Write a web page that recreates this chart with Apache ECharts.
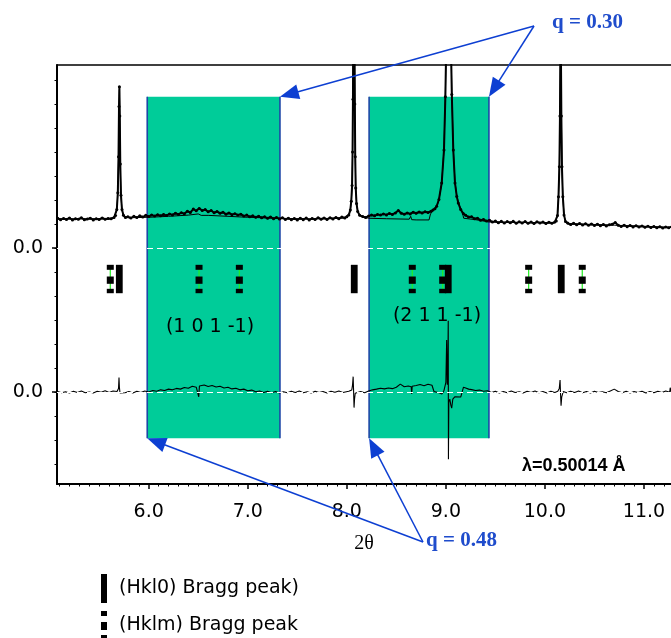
<!DOCTYPE html>
<html><head><meta charset="utf-8">
<script src="https://cdn.jsdelivr.net/npm/echarts@6/dist/echarts.min.js"></script>
<style>html,body{margin:0;padding:0;background:#fff}#chart{width:671px;height:638px}</style>
</head><body><div id="chart"></div>
<script>
// ---- observed pattern (2theta, intensity in axis units) ----
const twoTheta = [
5.08,5.11,5.14,5.17,5.20,5.23,5.26,5.29,5.32,5.35,5.38,5.41,5.44,5.47,5.50,5.53,5.56,5.59,5.62,
5.65,5.665,5.678,5.688,5.695,5.700,5.704,5.708,5.713,5.72,5.73,5.745,5.765,
5.79,5.82,5.85,5.88,5.91,5.94,5.97,6.00,6.03,6.06,
6.09,6.12,6.15,6.18,6.21,6.24,6.27,6.30,6.33,6.36,
6.39,6.42,6.45,6.48,6.51,6.54,6.57,6.60,6.63,6.66,
6.69,6.72,6.75,6.78,6.81,6.84,6.87,6.90,6.93,6.96,
6.99,7.02,7.05,7.08,7.11,7.14,7.17,7.20,7.23,7.26,
7.29,7.32,7.35,7.38,7.41,7.44,7.47,7.50,7.53,7.56,
7.59,7.62,7.65,7.68,7.71,7.74,7.77,7.80,7.83,7.86,
7.89,7.92,7.95,7.98,
8.00,8.02,8.035,8.045,8.053,8.058,8.062,8.065,8.071,8.077,8.081,8.085,8.09,8.098,8.11,8.13,
8.16,8.19,8.22,8.25,8.28,8.31,8.34,8.37,8.40,8.43,8.46,8.49,8.52,8.55,8.58,8.61,8.64,8.67,8.70,8.73,8.76,8.79,8.82,8.85,
8.87,8.89,8.907,8.93,8.958,8.981,8.995,9.005,9.015,9.028,9.04,9.05,9.06,9.075,9.092,9.11,9.125,9.15,9.176,
9.20,9.23,9.26,9.29,9.32,9.35,9.38,9.41,9.44,9.47,9.50,9.53,9.56,9.59,9.62,9.65,9.68,9.71,9.74,9.77,9.80,9.83,9.86,9.89,9.92,9.95,9.98,10.01,10.04,10.07,10.10,
10.115,10.127,10.137,10.146,10.152,10.156,10.159,10.162,10.166,10.172,10.181,10.193,10.208,
10.23,10.26,10.29,10.32,10.35,10.38,10.41,10.44,10.47,10.50,10.53,10.56,10.59,10.62,10.65,10.68,10.71,10.74,10.77,10.80,10.83,10.86,10.89,10.92,10.95,10.98,11.01,11.04,11.07,11.10,11.13,11.16,11.19,11.22,11.25,11.28
];
const yObs = [
7.24,7.18,7.23,7.19,7.25,7.17,7.22,7.20,7.26,7.18,7.21,7.24,7.17,7.22,7.19,7.25,7.20,7.23,7.22,
7.27,7.35,7.6,8.3,9.8,11.9,12.72,11.5,9.5,8.2,7.6,7.36,7.27,
7.30,7.25,7.32,7.27,7.34,7.29,7.36,7.31,7.38,7.33,
7.39,7.34,7.40,7.35,7.42,7.38,7.45,7.40,7.47,7.43,
7.53,7.48,7.62,7.55,7.65,7.56,7.60,7.51,7.56,7.47,
7.52,7.45,7.49,7.41,7.46,7.39,7.43,7.37,7.41,7.33,
7.37,7.30,7.34,7.28,7.32,7.26,7.30,7.24,7.29,7.22,
7.27,7.21,7.26,7.19,7.24,7.18,7.23,7.17,7.24,7.18,
7.25,7.17,7.23,7.19,7.26,7.20,7.25,7.19,7.26,7.21,
7.27,7.22,7.29,7.25,
7.30,7.38,7.58,7.95,8.6,10.0,12.2,15,24,15,12,9.8,8.5,7.85,7.52,7.36,
7.31,7.27,7.33,7.37,7.34,7.40,7.37,7.42,7.38,7.44,7.40,7.46,7.56,7.45,7.41,7.46,7.42,7.49,7.45,7.50,7.46,7.51,7.48,7.53,
7.58,7.64,7.74,8.02,8.71,10.08,12.3,14.8,20,32,20,14.8,12.4,10.08,8.71,8.15,7.88,7.60,7.44,
7.36,7.29,7.30,7.22,7.24,7.16,7.19,7.12,7.16,7.08,7.12,7.05,7.11,7.04,7.10,7.05,7.11,7.03,7.09,7.04,7.10,7.03,7.08,7.02,7.09,7.04,7.08,7.02,7.07,7.03,7.08,
7.12,7.35,8.14,9.39,11.5,14,22,14,11.5,9.39,8.14,7.38,7.10,
7.04,6.98,7.03,6.97,7.02,6.96,7.01,6.95,7.00,6.94,6.99,6.93,6.98,6.92,6.97,6.99,7.06,6.95,6.90,6.95,6.89,6.94,6.88,6.93,6.87,6.92,6.86,6.91,6.85,6.90,6.84,6.89,6.83,6.88,6.84,6.90
];
// ---- calculated pattern ----
const calcTheta = [5.08,5.60,5.65,5.665,5.678,5.688,5.695,5.700,5.704,5.708,5.713,5.72,5.73,5.745,5.765,5.80,6.00,6.20,6.40,6.50,6.515,6.53,6.60,6.80,7.00,7.30,7.60,7.98,8.00,8.02,8.035,8.045,8.053,8.058,8.062,8.065,8.071,8.077,8.081,8.085,8.09,8.098,8.11,8.13,8.16,8.22,8.40,8.63,8.645,8.655,8.70,8.83,8.845,8.87,8.89,8.907,8.93,8.958,8.981,8.995,9.005,9.015,9.028,9.04,9.05,9.06,9.075,9.092,9.11,9.125,9.15,9.17,9.18,9.30,9.44,10.10,10.115,10.127,10.137,10.146,10.152,10.156,10.159,10.162,10.166,10.172,10.181,10.193,10.208,10.23,10.70,11.28];
const yCalc = [7.21,7.22,7.26,7.34,7.58,8.25,9.7,11.8,12.6,11.4,9.4,8.15,7.58,7.34,7.26,7.26,7.28,7.32,7.37,7.42,7.44,7.36,7.36,7.32,7.28,7.24,7.21,7.25,7.29,7.37,7.57,7.93,8.55,9.9,12.0,15,24,15,12.1,9.9,8.55,7.88,7.52,7.36,7.30,7.24,7.22,7.20,7.32,7.18,7.17,7.17,7.42,7.55,7.62,7.72,8.0,8.7,10.1,12.4,15,20,32,20,15,12.5,10.1,8.75,8.2,7.92,7.62,7.42,7.24,7.18,7.08,7.05,7.11,7.33,8.12,9.4,11.6,14,22,14,11.6,9.4,8.12,7.36,7.09,7.00,6.95,6.86];
// ---- difference curve ----
const diffTheta = [
5.08,5.12,5.16,5.20,5.24,5.28,5.32,5.36,5.40,5.44,5.48,5.52,5.56,5.60,5.64,
5.68,5.695,5.700,5.704,5.71,5.73,
5.76,5.80,5.84,5.88,5.92,5.96,6.00,6.04,6.08,6.12,6.16,6.20,6.24,6.28,6.32,6.36,6.40,6.44,6.48,
6.50,6.505,6.512,
6.52,6.56,6.60,6.64,6.68,6.72,6.76,6.80,6.84,6.88,6.92,6.96,7.00,7.04,7.08,7.12,7.16,7.20,7.24,7.28,7.32,7.36,7.40,7.44,7.48,7.52,7.56,7.60,7.64,7.68,7.72,7.76,7.80,7.84,7.88,7.92,7.96,
8.02,8.05,8.058,8.064,8.068,8.073,8.078,8.085,8.10,
8.14,8.18,8.22,8.26,8.30,8.34,8.38,8.42,8.46,8.50,8.54,8.58,8.62,8.65,8.655,8.66,8.70,8.74,8.78,8.82,8.86,
8.88,8.90,8.93,8.96,8.98,9.00,9.008,9.014,9.020,9.024,9.026,9.030,9.040,9.050,9.059,9.07,9.09,9.11,9.15,9.17,9.178,9.20,9.23,
9.26,9.30,9.34,9.38,9.42,9.46,9.50,9.54,9.58,9.62,9.66,9.70,9.74,9.78,9.82,9.86,9.90,9.94,9.98,10.02,10.06,10.10,
10.13,10.145,10.153,10.158,10.163,10.17,10.185,
10.22,10.26,10.30,10.34,10.38,10.42,10.46,10.50,10.54,10.58,10.62,10.66,10.70,10.74,10.78,10.82,10.86,10.90,10.94,10.98,11.02,11.06,11.10,11.14,11.18,11.22,11.26,
11.265,11.275
];
const yDiff = [
0.02,-0.03,0.01,-0.04,0.03,-0.02,0.04,-0.03,0.00,-0.04,0.03,-0.01,0.05,-0.02,0.04,
0.02,0.15,0.6,0.2,-0.04,0.03,
-0.03,0.02,-0.04,0.03,-0.02,0.04,0.00,0.06,0.03,0.09,0.06,0.12,0.09,0.15,0.12,0.19,0.16,0.24,0.20,
0.27,-0.2,0.25,
0.22,0.29,0.23,0.27,0.21,0.24,0.17,0.20,0.13,0.16,0.09,0.12,0.05,0.08,0.01,0.04,-0.02,0.03,-0.03,0.02,-0.04,0.01,-0.03,0.03,-0.02,0.04,-0.03,0.01,-0.04,0.03,-0.02,0.02,-0.04,0.03,-0.01,0.04,-0.02,
0.03,0.08,0.30,0.64,0.1,-0.65,-0.3,-0.05,0.02,
0.02,-0.03,0.04,0.09,0.12,0.16,0.13,0.17,0.14,0.20,0.33,0.22,0.25,0.22,-0.08,0.24,0.27,0.31,0.26,0.32,0.28,
0.02,-0.06,-0.03,-0.08,0.05,0.4,2.17,0.3,1.0,2.97,-2.8,-0.4,-0.3,-0.55,-0.67,-0.3,-0.2,-0.18,-0.21,-0.16,0.2,0.17,0.12,
0.10,0.06,0.08,0.03,0.05,-0.02,0.03,-0.04,0.02,-0.03,0.04,-0.02,0.01,-0.04,0.03,-0.02,0.04,-0.03,0.02,-0.04,0.03,-0.02,
0.03,0.15,0.50,-0.1,-0.57,-0.2,0.02,
-0.03,0.03,-0.02,0.04,-0.03,0.02,-0.04,0.03,-0.02,0.01,-0.03,0.04,0.12,0.02,-0.03,0.03,-0.04,0.02,-0.02,0.03,-0.04,0.02,-0.03,0.03,-0.02,0.04,-0.01,
0.18,0.0
];
// ---- Bragg reflections ----
const hkl0Peaks = [5.703, 8.075, 9.024, 10.165];
const hklmPeaks = [5.612, 6.508, 6.915, 8.661, 8.968, 9.836, 10.377];
// ---- highlighted q regions (2theta ranges) ----
const qRegions = [[5.985, 7.325], [8.225, 9.435]];
// ---- axis ticks / labels ----
const xTickLabels = [6, 7, 8, 9, 10, 11];
const yZeroLevels = [0, 6];
const yMinorTicks = [-3,-2,-1,0,1,2,3,4,5,6,7,8,9,10,11,12,13];

const X_MIN = 5.074, X_MAX = 11.273, Y_MIN = -3.833, Y_MAX = 13.625;
const RECT_TOP = 12.30, RECT_BOTTOM = -1.93, BRAGG_LEVEL = 4.708;
const xMinorTicks = [];
for (let i = 51; i <= 112; i++) if (i % 10) xMinorTicks.push(i / 10);

const SANS = "'DejaVu Sans', sans-serif";
const blue = '#0d3fd2';
const pair = (xs, ys) => xs.map((x, i) => [x, ys[i]]);

const chart = echarts.init(document.getElementById('chart'), null, {renderer: 'canvas'});
const option = {
  animation: false,
  backgroundColor: '#fff',
  grid: {left: 57, right: 0, top: 65, bottom: 154, containLabel: false},
  xAxis: [
    {type: 'value', min: X_MIN, max: X_MAX, position: 'bottom',
     axisLine: {show: true, onZero: false, lineStyle: {color: '#000', width: 2}},
     axisTick: {show: true, customValues: xTickLabels, length: 5, lineStyle: {color: '#000', width: 1.5}},
     axisLabel: {customValues: xTickLabels, formatter: v => Number(v).toFixed(1), fontSize: 19, fontFamily: SANS, color: '#000', margin: 19},
     splitLine: {show: false},
     name: '2θ', nameLocation: 'middle', nameGap: 50,
     nameTextStyle: {fontFamily: "'Liberation Serif', serif", fontSize: 20, color: '#000'}},
    {type: 'value', min: X_MIN, max: X_MAX, position: 'bottom',
     axisLine: {show: false, onZero: false},
     axisTick: {show: true, customValues: xMinorTicks, length: 2.5, lineStyle: {color: '#000', width: 1}},
     axisLabel: {show: false}, splitLine: {show: false}},
    {type: 'value', min: X_MIN, max: X_MAX, position: 'top',
     axisLine: {show: true, onZero: false, lineStyle: {color: '#000', width: 1.5}},
     axisTick: {show: false}, axisLabel: {show: false}, splitLine: {show: false}}
  ],
  yAxis: [
    {type: 'value', min: Y_MIN, max: Y_MAX, position: 'left',
     axisLine: {show: true, onZero: false, lineStyle: {color: '#000', width: 2}},
     axisTick: {show: true, customValues: yMinorTicks, length: 2.5, lineStyle: {color: '#000', width: 1}},
     axisLabel: {customValues: yZeroLevels, formatter: () => '0.0', fontSize: 19, fontFamily: SANS, color: '#000', margin: 14},
     splitLine: {show: false}},
    {type: 'value', min: Y_MIN, max: Y_MAX, position: 'left',
     axisLine: {show: false, onZero: false},
     axisTick: {show: true, customValues: yZeroLevels, length: 5, lineStyle: {color: '#000', width: 1.5}},
     axisLabel: {show: false}, splitLine: {show: false}}
  ],
  legend: {
    orient: 'vertical', left: 101, top: 574, height: 120, padding: 0, itemWidth: 6, itemHeight: 29, itemGap: 8,
    selectedMode: false,
    textStyle: {fontFamily: SANS, fontSize: 19, color: '#000', padding: [0, 0, 0, 7]},
    data: [
      {name: '(Hkl0) Bragg peak)', icon: 'rect'},
      {name: '(Hklm) Bragg peak', icon: 'path://M0,0L6,0L6,5L0,5Z M0,11L6,11L6,19L0,19Z M0,24L6,24L6,29L0,29Z'}
    ]
  },
  series: [
    {type: 'custom', name: 'q regions', z: 1, silent: true,
     data: qRegions,
     encode: {x: [0, 1]},
     renderItem: (params, api) => {
       const p0 = api.coord([api.value(0), RECT_TOP]);
       const p1 = api.coord([api.value(1), RECT_BOTTOM]);
       const edge = {stroke: '#1d46a6', lineWidth: 1.6};
       return {type: 'group', children: [
         {type: 'rect', shape: {x: p0[0], y: p0[1], width: p1[0] - p0[0], height: p1[1] - p0[1]}, style: {fill: '#00CC99'}},
         {type: 'line', shape: {x1: p0[0], y1: p0[1], x2: p0[0], y2: p1[1]}, style: edge},
         {type: 'line', shape: {x1: p1[0], y1: p0[1], x2: p1[0], y2: p1[1]}, style: edge}
       ]};
     },
     markLine: {silent: true, symbol: 'none', label: {show: false},
       lineStyle: {color: '#fff', type: [6, 4], width: 1},
       data: yZeroLevels.map(v => ({yAxis: v}))}
    },
    {type: 'line', name: 'calc', z: 3, data: pair(calcTheta, yCalc), showSymbol: false,
     lineStyle: {color: '#000', width: 1}, itemStyle: {color: '#000'}, clip: true},
    {type: 'line', name: 'obs', z: 4, data: pair(twoTheta, yObs), showSymbol: true, showAllSymbol: true,
     symbol: 'circle', symbolSize: 3,
     lineStyle: {color: '#000', width: 2}, itemStyle: {color: '#000'}, clip: true},
    {type: 'line', name: 'diff', z: 4, data: pair(diffTheta, yDiff), showSymbol: false,
     lineStyle: {color: '#000', width: 1.1}, itemStyle: {color: '#000'}, clip: true},
    {type: 'custom', name: '(Hkl0) Bragg peak)', z: 5, itemStyle: {color: '#000'},
     data: hkl0Peaks.map(p => [p, BRAGG_LEVEL]),
     renderItem: (params, api) => {
       const c = api.coord([api.value(0), api.value(1)]);
       return {type: 'rect', shape: {x: c[0] - 3.4, y: c[1] - 14.2, width: 6.8, height: 28.4}, style: {fill: '#000'}};
     }},
    {type: 'custom', name: '(Hklm) Bragg peak', z: 5, itemStyle: {color: '#000'},
     data: hklmPeaks.map(p => [p, BRAGG_LEVEL]),
     renderItem: (params, api) => {
       const c = api.coord([api.value(0), api.value(1)]);
       const x = c[0] - 3.5, w = 7;
       return {type: 'group', children: [
         {type: 'line', shape: {x1: c[0], y1: c[1] - 10, x2: c[0], y2: c[1] + 10}, style: {stroke: '#22ee22', lineWidth: 1.2}},
         {type: 'rect', shape: {x: x, y: c[1] - 14.2, width: w, height: 5}, style: {fill: '#000'}},
         {type: 'rect', shape: {x: x, y: c[1] - 2.5, width: w, height: 7.3}, style: {fill: '#000'}},
         {type: 'rect', shape: {x: x, y: c[1] + 9.8, width: w, height: 4.4}, style: {fill: '#000'}}
       ]};
     }}
  ]
};
chart.setOption(option);

// ---- annotations ----
const px = (x, y) => chart.convertToPixel({xAxisIndex: 0, yAxisIndex: 0}, [x, y]);
function arrow(from, to) {
  const dx = to[0] - from[0], dy = to[1] - from[1], L = Math.hypot(dx, dy);
  const ux = dx / L, uy = dy / L, hl = 19, hw = 7.5;
  const bx = to[0] - ux * hl, by = to[1] - uy * hl;
  return [
    {type: 'line', silent: true, z: 100, shape: {x1: from[0], y1: from[1], x2: bx + ux * 2, y2: by + uy * 2}, style: {stroke: blue, lineWidth: 1.5}},
    {type: 'polygon', silent: true, z: 100, shape: {points: [[to[0], to[1]], [bx - uy * hw, by + ux * hw], [bx + uy * hw, by - ux * hw]]}, style: {fill: blue}}
  ];
}
const q30 = [534, 26], q48 = [423, 542];
const graphics = [];
qRegions.forEach(r => graphics.push(...arrow(q30, px(r[1], RECT_TOP))));
qRegions.forEach(r => graphics.push(...arrow(q48, px(r[0], RECT_BOTTOM))));
const qFont = "bold 21px 'Liberation Serif', serif";
graphics.push(
  {type: 'text', silent: true, z: 100, x: 552, y: 23, style: {text: 'q = 0.30', fill: '#1f4ccc', font: qFont, textVerticalAlign: 'middle'}},
  {type: 'text', silent: true, z: 100, x: 426, y: 541, style: {text: 'q = 0.48', fill: '#1f4ccc', font: qFont, textVerticalAlign: 'middle'}},
  {type: 'text', silent: true, z: 100, x: 522, y: 466, style: {text: 'λ=0.50014 Å', fill: '#000', font: "bold 18px 'Liberation Sans', Arial, sans-serif", textVerticalAlign: 'middle'}},
  {type: 'text', silent: true, z: 100, x: 210, y: 327, style: {text: '(1 0 1 -1)', fill: '#000', font: "19px 'DejaVu Sans', sans-serif", textAlign: 'center', textVerticalAlign: 'middle'}},
  {type: 'text', silent: true, z: 100, x: 437, y: 316, style: {text: '(2 1 1 -1)', fill: '#000', font: "19px 'DejaVu Sans', sans-serif", textAlign: 'center', textVerticalAlign: 'middle'}}
);
chart.setOption({graphic: graphics});
</script>
</body></html>
